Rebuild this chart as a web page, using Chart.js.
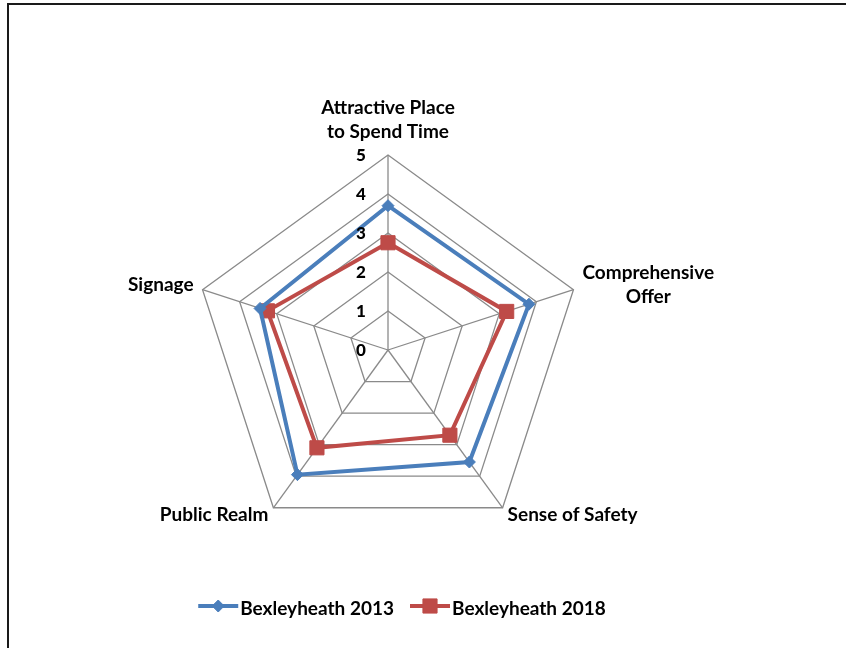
<!DOCTYPE html>
<html>
<head>
<meta charset="utf-8">
<title>Bexleyheath radar</title>
<script src="https://cdn.jsdelivr.net/npm/chart.js@4"></script>
<style>
  html, body { margin: 0; padding: 0; background: #fff; overflow: hidden; }
  #frame {
    position: absolute; left: 7px; top: 3px; width: 837px; height: 643px;
    border-top: 2px solid #1a1a1a; border-left: 2px solid #1a1a1a;
  }
  #radarChart { position: absolute; left: 0; top: 0; }
</style>
</head>
<body>
<div id="frame"></div>
<canvas id="radarChart" width="846" height="648"></canvas>
<script>
const categories = [["Attractive Place", "to Spend Time"], ["Comprehensive", "Offer"], "Sense of Safety", "Public Realm", "Signage"];
const seriesNames = ["Bexleyheath 2013", "Bexleyheath 2018"];
const values2013 = [3.7, 3.8, 3.55, 3.95, 3.45];
const values2018 = [2.75, 3.2, 2.7, 3.1, 3.25];
const tickMin = 0;
const tickMax = 5;
const tickStep = 1;

const FONT = "Lato, 'Open Sans', sans-serif";
const BLUE = "#4a7ebb";
const RED = "#be4b48";

// axis numbers sit just left of the vertical spoke
const tickLabels = {
  id: "tickLabels",
  afterDatasetsDraw(chart) {
    const scale = chart.scales.r;
    const ctx = chart.ctx;
    ctx.save();
    ctx.font = "900 17px " + FONT;
    ctx.fillStyle = "#000";
    ctx.textAlign = "center";
    ctx.textBaseline = "middle";
    scale.ticks.forEach((t) => {
      const d = scale.getDistanceFromCenterForValue(t.value);
      ctx.fillText(String(t.value), scale.xCenter - 27, scale.yCenter - d + 1);
    });
    ctx.restore();
  },
};

// category names around the outer ring
const axisNames = {
  id: "axisNames",
  afterDraw(chart) {
    const scale = chart.scales.r;
    const ctx = chart.ctx;
    const lh = 24;
    const cap = 13;
    ctx.save();
    ctx.font = "bold 19px " + FONT;
    ctx.fillStyle = "#000";
    ctx.textBaseline = "alphabetic";
    ctx.textAlign = "center";
    chart.data.labels.forEach((lab, i) => {
      const lines = Array.isArray(lab) ? lab : [lab];
      const pt = scale.getPointPosition(i, scale.drawingArea);
      const dx = pt.x - scale.xCenter;
      const dy = pt.y - scale.yCenter;
      const w = Math.max(...lines.map((l) => ctx.measureText(l).width));
      const side = dy > -scale.drawingArea * 0.9 && dy <= 0;
      const gap = side ? 9 : 5;
      let cx;
      if (Math.abs(dx) < 1) cx = pt.x;
      else if (dx > 0) cx = pt.x + gap + w / 2;
      else cx = pt.x - gap - w / 2;
      let y0;
      if (dy < -scale.drawingArea * 0.9) y0 = pt.y - 17 - (lines.length - 1) * lh;
      else if (dy > 0) y0 = pt.y + cap;
      else y0 = pt.y + cap / 2 - 5 - (lines.length - 1) * lh / 2;
      lines.forEach((l, k) => ctx.fillText(l, cx, y0 + k * lh));
    });
    ctx.restore();
  },
};

// line-and-marker legend under the plot
const lineLegend = {
  id: "lineLegend",
  afterDraw(chart) {
    const ctx = chart.ctx;
    const y = 606;
    const lineLen = 40;
    const spacing = 16;
    ctx.save();
    ctx.font = "bold 19px " + FONT;
    const items = chart.data.datasets.map((ds) => ({ ds, w: ctx.measureText(ds.label).width }));
    const total = items.reduce((s, it) => s + lineLen + 2 + it.w, 0) + spacing * (items.length - 1);
    let x = 402 - total / 2;
    items.forEach((it) => {
      const ds = it.ds;
      ctx.strokeStyle = ds.borderColor;
      ctx.lineWidth = ds.borderWidth;
      ctx.beginPath();
      ctx.moveTo(x, y);
      ctx.lineTo(x + lineLen, y);
      ctx.stroke();
      ctx.fillStyle = ds.pointBackgroundColor;
      ctx.strokeStyle = ds.pointBorderColor;
      ctx.lineWidth = ds.pointBorderWidth;
      Chart.helpers.drawPoint(ctx, {
        pointStyle: ds.pointStyle,
        radius: ds.pointRadius,
        borderWidth: ds.pointBorderWidth,
        rotation: 0,
      }, x + lineLen / 2, y);
      ctx.fillStyle = "#000";
      ctx.textAlign = "left";
      ctx.textBaseline = "alphabetic";
      ctx.fillText(ds.label, x + lineLen + 2, y + 9);
      x += lineLen + 2 + it.w + spacing;
    });
    ctx.restore();
  },
};

new Chart(document.getElementById("radarChart"), {
  type: "radar",
  data: {
    labels: categories,
    datasets: [
      {
        label: seriesNames[0],
        data: values2013,
        borderColor: BLUE,
        borderWidth: 4,
        fill: false,
        pointStyle: "rectRot",
        pointRadius: 6,
        pointBackgroundColor: BLUE,
        pointBorderColor: BLUE,
        pointBorderWidth: 1,
      },
      {
        label: seriesNames[1],
        data: values2018,
        borderColor: RED,
        borderWidth: 4,
        fill: false,
        pointStyle: "rect",
        pointRadius: 10,
        pointBackgroundColor: RED,
        pointBorderColor: RED,
        pointBorderWidth: 1,
      },
    ],
  },
  options: {
    responsive: false,
    animation: false,
    layout: { padding: { left: 193, right: 263, top: 155, bottom: 103 } },
    plugins: {
      legend: { display: false },
      tooltip: { enabled: false },
    },
    elements: { line: { tension: 0 } },
    scales: {
      r: {
        min: tickMin,
        max: tickMax,
        ticks: { stepSize: tickStep, display: false },
        pointLabels: { display: false },
        grid: { color: "#8a8a8a", lineWidth: 1.3 },
        angleLines: { color: "#8a8a8a", lineWidth: 1.3 },
      },
    },
  },
  plugins: [tickLabels, axisNames, lineLegend],
});
</script>
</body>
</html>
